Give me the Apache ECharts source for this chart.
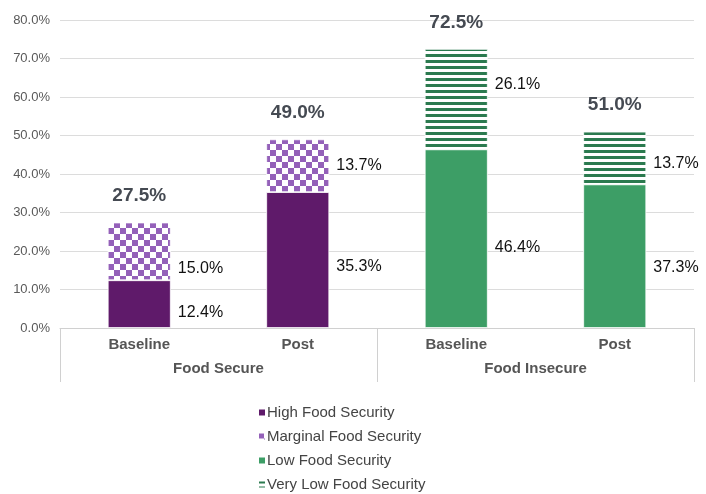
<!DOCTYPE html>
<html>
<head>
<meta charset="utf-8">
<style>
  html, body { margin: 0; padding: 0; background: #fff; }
  #chart { width: 706px; height: 494px; }
</style>
<script src="https://cdn.jsdelivr.net/npm/echarts@6/dist/echarts.min.js"></script>
</head>
<body>
<div id="chart"></div>
<script>
// Food security status by group and time point (percent of respondents)
const categories = ['Baseline', 'Post', 'Baseline', 'Post'];
const groups = ['Food Secure', 'Food Insecure'];
const highFS = [12.4, 35.3, null, null];
const marginalFS = [15.0, 13.7, null, null];
const lowFS = [null, null, 46.4, 37.3];
const veryLowFS = [null, null, 26.1, 13.7];
const totals = [27.5, 49.0, 72.5, 51.0];
const yTicks = [0, 10, 20, 30, 40, 50, 60, 70, 80];

// vertical nudges (px) for the segment labels beside each bar
const nudgeHigh = [8, 7, 0, 0];
const nudgeMarginal = [17, 0, 0, 0];
const nudgeLow = [0, 0, 9, 11];
const nudgeVeryLow = [0, 0, -15, 6];

const C_HIGH = '#5f1a6a';
const C_MARG = '#9461b9';
const C_LOW = '#3d9e66';
const C_VLOW = '#2b7a4f';

function checkerPattern() {
  const c = document.createElement('canvas');
  c.width = 12; c.height = 12;
  const g = c.getContext('2d');
  g.fillStyle = '#ffffff'; g.fillRect(0, 0, 12, 12);
  g.fillStyle = C_MARG;
  g.fillRect(0, 0, 6, 6);
  g.fillRect(6, 6, 6, 6);
  return c;
}
function stripePattern() {
  const c = document.createElement('canvas');
  c.width = 6; c.height = 6;
  const g = c.getContext('2d');
  g.fillStyle = '#ffffff'; g.fillRect(0, 0, 6, 6);
  g.fillStyle = C_VLOW;
  g.fillRect(0, 0, 6, 3);
  return c;
}

function withNudge(values, nudges) {
  return values.map((v, i) => ({ value: v, label: { offset: [0, nudges[i]] } }));
}

const segLabel = {
  show: true,
  position: 'right',
  distance: 7,
  color: '#111',
  fontSize: 16,
  fontFamily: 'Liberation Sans, Arial, sans-serif',
  formatter: p => p.value == null ? '' : p.value.toFixed(1) + '%'
};

const BAR_W = 63;

const chart = echarts.init(document.getElementById('chart'));
chart.setOption({
  animation: false,
  textStyle: { fontFamily: 'Liberation Sans, Arial, sans-serif' },
  grid: { left: 60, right: 12, top: 20, bottom: 166 },
  xAxis: [
    {
      type: 'category',
      data: categories,
      axisLine: { show: true, lineStyle: { color: '#d0d0d0', width: 1 } },
      axisTick: { show: false },
      axisLabel: { color: '#555', fontSize: 15, fontWeight: 'bold', margin: 9 }
    },
    {
      type: 'category',
      data: groups,
      position: 'bottom',
      axisLine: { show: false },
      axisTick: { show: true, length: 54, interval: 0, lineStyle: { color: '#d0d0d0' } },
      axisLabel: { color: '#555', fontSize: 15, fontWeight: 'bold', margin: 33 }
    }
  ],
  yAxis: {
    type: 'value',
    min: yTicks[0],
    max: yTicks[yTicks.length - 1],
    interval: 10,
    axisLine: { show: false },
    axisTick: { show: false },
    splitLine: { lineStyle: { color: '#dcdcdc' } },
    axisLabel: { color: '#595959', fontSize: 13, margin: 10, formatter: v => v.toFixed(1) + '%' }
  },
  legend: {
    orient: 'vertical',
    left: 252,
    top: 399,
    height: 100,
    itemWidth: 8,
    itemHeight: 8,
    itemGap: 7,
    icon: 'rect',
    textStyle: { color: '#444', fontSize: 15, lineHeight: 17, padding: [0, 0, 0, -4] },
    data: ['High Food Security', 'Marginal Food Security', 'Low Food Security', 'Very Low Food Security']
  },
  series: [
    {
      name: 'High Food Security', type: 'bar', stack: 'fs', barWidth: BAR_W, barGap: '-100%',
      data: withNudge(highFS, nudgeHigh),
      itemStyle: { color: C_HIGH, borderColor: '#fff', borderWidth: 0.8 },
      label: segLabel
    },
    {
      name: 'Marginal Food Security', type: 'bar', stack: 'fs', barWidth: BAR_W,
      data: withNudge(marginalFS, nudgeMarginal),
      itemStyle: { color: { image: checkerPattern(), repeat: 'repeat' }, borderColor: '#fff', borderWidth: 0.8 },
      label: segLabel
    },
    {
      name: 'Low Food Security', type: 'bar', stack: 'fs', barWidth: BAR_W,
      data: withNudge(lowFS, nudgeLow),
      itemStyle: { color: C_LOW, borderColor: '#fff', borderWidth: 0.8 },
      label: segLabel
    },
    {
      name: 'Very Low Food Security', type: 'bar', stack: 'fs', barWidth: BAR_W,
      data: withNudge(veryLowFS, nudgeVeryLow),
      itemStyle: { color: { image: stripePattern(), repeat: 'repeat' }, borderColor: '#fff', borderWidth: 0.8 },
      label: segLabel
    },
    {
      name: 'Total', type: 'bar', barWidth: BAR_W, barGap: '-100%', z: 1,
      data: totals,
      itemStyle: { color: 'rgba(0,0,0,0)' },
      label: {
        show: true, position: 'top', distance: 17,
        color: '#454a52', fontSize: 19, fontWeight: 'bold',
        formatter: p => p.value.toFixed(1) + '%'
      }
    }
  ]
});
</script>
</body>
</html>
